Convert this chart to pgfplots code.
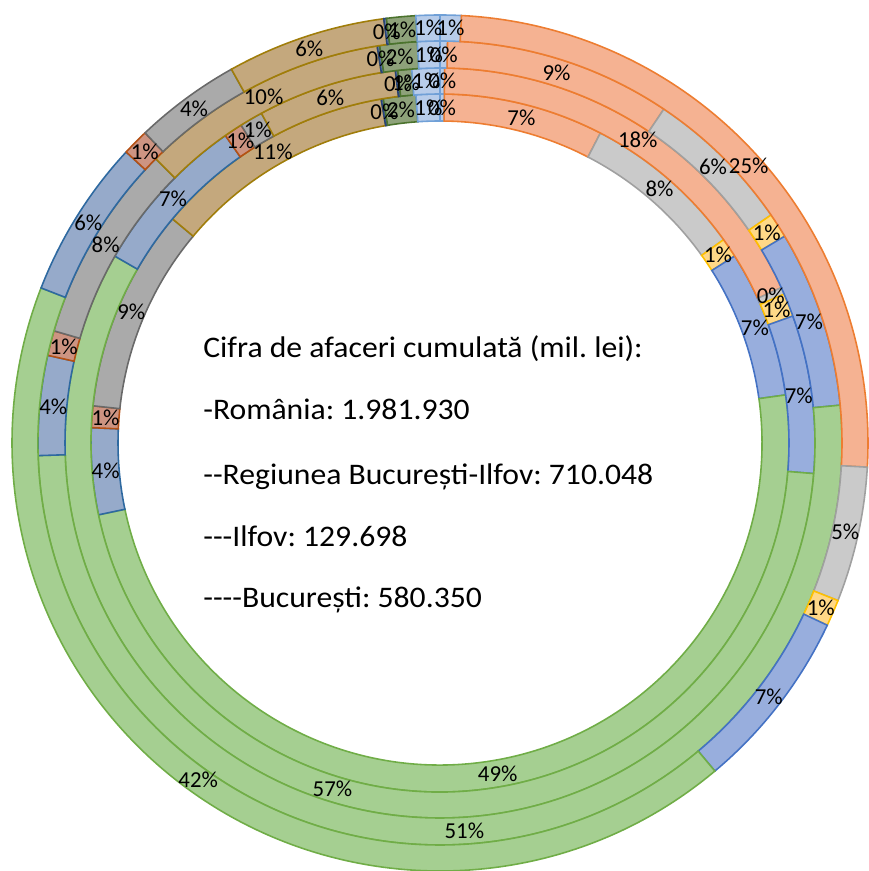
\documentclass[border=0pt]{standalone}
\usepackage{fontspec}
\setmainfont{Carlito}[Ligatures=TeXOff]
\usepackage{pgfplots}
\usepackage{pgfplotstable}
\pgfplotsset{compat=1.18}
\frenchspacing

% fill / border colour per category (same order in every ring)
\definecolor{fill0}{RGB}{183,204,234}  \definecolor{line0}{RGB}{112,160,215}
\definecolor{fill1}{RGB}{245,178,146}  \definecolor{line1}{RGB}{237,125,49}
\definecolor{fill2}{RGB}{202,202,202}  \definecolor{line2}{RGB}{160,160,160}
\definecolor{fill3}{RGB}{255,216,135}  \definecolor{line3}{RGB}{255,192,0}
\definecolor{fill4}{RGB}{152,174,221}  \definecolor{line4}{RGB}{68,114,196}
\definecolor{fill5}{RGB}{165,207,145}  \definecolor{line5}{RGB}{112,173,71}
\definecolor{fill6}{RGB}{150,170,202}  \definecolor{line6}{RGB}{46,105,160}
\definecolor{fill7}{RGB}{205,148,130}  \definecolor{line7}{RGB}{180,80,20}
\definecolor{fill8}{RGB}{170,170,170}  \definecolor{line8}{RGB}{105,105,105}
\definecolor{fill9}{RGB}{196,168,125}  \definecolor{line9}{RGB}{160,125,10}
\definecolor{fill10}{RGB}{110,130,170} \definecolor{line10}{RGB}{38,68,120}
\definecolor{fill11}{RGB}{142,162,122} \definecolor{line11}{RGB}{75,115,45}
\definecolor{fill12}{RGB}{183,204,234} \definecolor{line12}{RGB}{112,160,215}

% share in percent, shown label
\pgfplotstableread{
share pct
0.2  0
7.4  7
7.5  8
0.9  1
6.8  7
48.9 49
4.0  4
1.0  1
9.4  9
11.2 11
0.1  0
1.5  2
1.1  1
}\ringone

\pgfplotstableread{
share pct
0.2  0
18.0 18
0.3  0
1.0  1
6.8  7
57.0 57
7.0  7
0.8  1
1.0  1
6.0  6
0.1  0
0.6  1
1.2  1
}\ringtwo

\pgfplotstableread{
share pct
0.3  0
9.1  9
6.0  6
1.0  1
7.1  7
51.0 51
4.0  4
1.0  1
8.0  8
10.0 10
0.1  0
1.5  2
0.9  1
}\ringthree

\pgfplotstableread{
share pct
0.8  1
25.1 25
5.1  5
1.0  1
6.9  7
42.0 42
6.0  6
1.0  1
4.0  4
6.0  6
0.1  0
1.1  1
0.9  1
}\ringfour

% #1 table, #2 inner radius, #3 outer radius (axis units)
\newcommand{\drawring}[3]{%
  \pgfplotstablegetrowsof{#1}%
  \pgfmathtruncatemacro{\lastrow}{\pgfplotsretval-1}%
  \pgfmathsetmacro{\rin}{#2*0.02*28.45274}%
  \pgfmathsetmacro{\rout}{#3*0.02*28.45274}%
  \gdef\cum{0}%
  \foreach \i in {0,...,\lastrow}{%
    \pgfplotstablegetelem{\i}{share}\of{#1}%
    \let\v=\pgfplotsretval
    \pgfmathsetmacro{\a}{90-3.6*\cum}%
    \pgfmathsetmacro{\b}{90-3.6*(\cum+\v)}%
    \filldraw[fill=fill\i, draw=line\i, line width=0.9pt]
      (axis cs:{#3*cos(\a)},{#3*sin(\a)}) arc[start angle=\a, end angle=\b, radius=\rout pt]
      -- (axis cs:{#2*cos(\b)},{#2*sin(\b)}) arc[start angle=\b, end angle=\a, radius=\rin pt] -- cycle;
    \pgfmathsetmacro{\c}{\cum+\v}\xdef\cum{\c}%
  }%
}
\newcommand{\labelring}[3]{%
  \pgfplotstablegetrowsof{#1}%
  \pgfmathtruncatemacro{\lastrow}{\pgfplotsretval-1}%
  \pgfmathsetmacro{\rmid}{(#2+#3)/2}%
  \gdef\cum{0}%
  \foreach \i in {0,...,\lastrow}{%
    \pgfplotstablegetelem{\i}{share}\of{#1}%
    \let\v=\pgfplotsretval
    \pgfplotstablegetelem{\i}{pct}\of{#1}%
    \let\p=\pgfplotsretval
    \pgfmathsetmacro{\m}{90-3.6*(\cum+\v/2)}%
    \node[font=\fontsize{13}{15}\selectfont, inner sep=0pt]
      at (axis cs:{\rmid*cos(\m)},{\rmid*sin(\m)}) {\p\%};
    \pgfmathsetmacro{\c}{\cum+\v}\xdef\cum{\c}%
  }%
}
\newcommand{\wide}[1]{\scalebox{1.06}[1]{#1}}

\begin{document}
\begin{tikzpicture}
\begin{axis}[name=ax, hide axis, x=0.02cm, y=0.02cm,
    xmin=-440, xmax=428, ymin=-428, ymax=443, clip=false]
  \pgfplotsextra{%
    \drawring{\ringone}{322}{349}%
    \drawring{\ringtwo}{349}{375}%
    \drawring{\ringthree}{375}{402}%
    \drawring{\ringfour}{402}{428}%
    \labelring{\ringone}{322}{349}%
    \labelring{\ringtwo}{349}{375}%
    \labelring{\ringthree}{375}{402}%
    \labelring{\ringfour}{402}{428}%
  }
  \begin{scope}[every node/.style={anchor=base west, inner sep=0pt,
      font=\fontsize{17}{20}\selectfont}]
    \node at (axis cs:-237,85) {\wide{Cifra de afaceri cumulată (mil. lei):}};
    \node at (axis cs:-237,23) {\wide{-România: 1.981.930}};
    \node at (axis cs:-237,-42) {\wide{--Regiunea București-Ilfov: 710.048}};
    \node at (axis cs:-237,-104) {\wide{---Ilfov: 129.698}};
    \node at (axis cs:-237,-165) {\wide{----București: 580.350}};
  \end{scope}
\end{axis}
\pgfresetboundingbox
\path[use as bounding box] (ax.south west) rectangle (ax.north east);
\end{tikzpicture}
\end{document}
